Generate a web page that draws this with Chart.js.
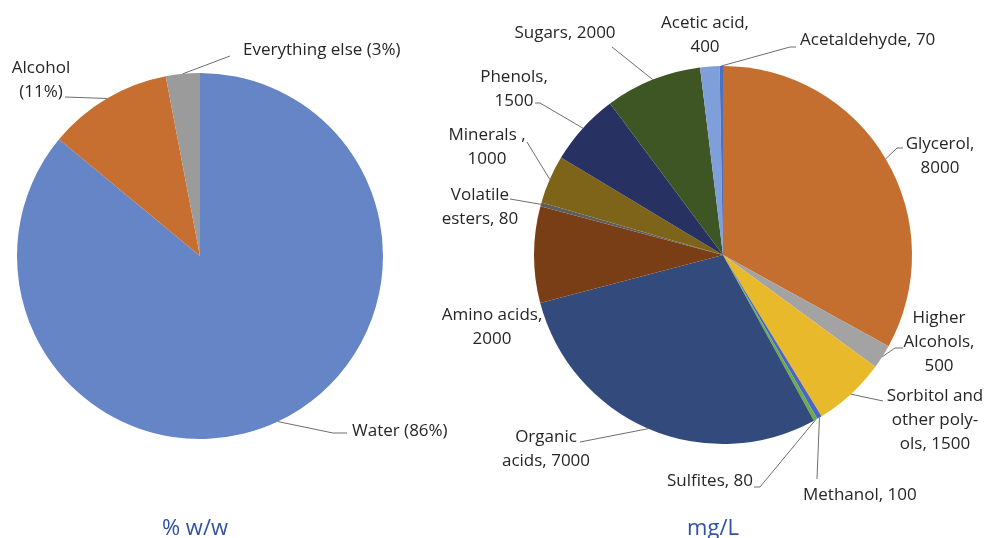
<!DOCTYPE html>
<html>
<head>
<meta charset="utf-8">
<script src="https://cdn.jsdelivr.net/npm/chart.js@4.4.1/dist/chart.umd.min.js"></script>
<style>
    html, body { margin: 0; padding: 0; background: #fff; }
    #wrap { position: relative; width: 985px; height: 538px; }
    #wrap canvas { position: absolute; left: 0; top: 0; }
</style>
</head>
<body>
<div id="wrap">
    <canvas id="peso-chart" width="985" height="538"></canvas>
    <canvas id="mgl-chart" width="985" height="538"></canvas>
</div>
<script>
// wine by weight, % w/w
const pesoCategorias = ['Water', 'Alcohol', 'Everything else'];
const pesoValores = [86, 11, 3];
const pesoCores = ['#6685c7', '#c66f31', '#9b9b9b'];

// the "everything else" part, mg/L
const mglCategorias = ['Glycerol', 'Higher Alcohols', 'Sorbitol and other polyols', 'Methanol', 'Sulfites',
    'Organic acids', 'Amino acids', 'Volatile esters', 'Minerals', 'Phenols', 'Sugars', 'Acetic acid', 'Acetaldehyde'];
const mglValores = [8000, 500, 1500, 100, 80, 7000, 2000, 80, 1000, 1500, 2000, 400, 70];
const mglCores = ['#c46e30', '#a3a3a3', '#e8b92a', '#4a64c8', '#6bae47', '#334a7d', '#7a3e17',
    '#5e5e5e', '#7d6418', '#283262', '#3e5624', '#7f9fdb', '#4f6fc0'];

// label placement, {v} is filled with the slice value
const pesoRotulos = [
    { lines: ['Water ({v}%)'], x: 352, y: 431, align: 'left', elbow: [333, 433], end: [347, 433] },
    { lines: ['Alcohol', '({v}%)'], x: 41, y: 68, align: 'center', end: [65, 97] },
    { lines: ['Everything else ({v}%)'], x: 243, y: 50, align: 'left', end: [230, 56] }
];
const mglRotulos = [
    { lines: ['Glycerol,', '{v}'], x: 940, y: 144, align: 'center', elbow: [897, 148], end: [903, 148] },
    { lines: ['Higher', 'Alcohols,', '{v}'], x: 939, y: 318, align: 'center', elbow: [895, 348], end: [903, 348] },
    { lines: ['Sorbitol and', 'other poly-', 'ols, {v}'], x: 935, y: 396, align: 'center', end: [883, 401] },
    { lines: ['Methanol, {v}'], x: 803, y: 495, align: 'left', end: [817, 479] },
    { lines: ['Sulfites, {v}'], x: 753, y: 481, align: 'right', elbow: [760, 487], end: [754, 487] },
    { lines: ['Organic', 'acids, {v}'], x: 546, y: 437, align: 'center', end: [580, 442] },
    { lines: ['Amino acids,', '{v}'], x: 492, y: 315, align: 'center' },
    { lines: ['Volatile', 'esters, {v}'], x: 480, y: 195, align: 'center', end: [510, 199] },
    { lines: ['Minerals ,', '{v}'], x: 487, y: 135, align: 'center', elbow: [530, 147], end: [527, 142] },
    { lines: ['Phenols,', '{v}'], x: 514, y: 77, align: 'center', elbow: [540, 103], end: [535, 103] },
    { lines: ['Sugars, {v}'], x: 565, y: 33, align: 'center', end: [612, 47] },
    { lines: ['Acetic acid,', '{v}'], x: 705, y: 23, align: 'center' },
    { lines: ['Acetaldehyde, {v}'], x: 800, y: 40, align: 'left', elbow: [790, 47], end: [796, 47] }
];

const FONTE = '"Open Sans", "Noto Sans", sans-serif';

// draws leader lines from each slice's outer edge, the labels and the unit caption
const rotulosPlugin = {
    id: 'rotulos',
    afterDatasetsDraw(chart, args, opts) {
        const ctx = chart.ctx;
        const meta = chart.getDatasetMeta(0);
        const valores = chart.data.datasets[0].data;
        ctx.save();
        opts.rotulos.forEach((r, i) => {
            const arc = meta.data[i];
            const p = arc.getProps(['x', 'y', 'startAngle', 'endAngle', 'outerRadius'], true);
            const meio = (p.startAngle + p.endAngle) / 2;
            const ax = p.x + Math.cos(meio) * p.outerRadius;
            const ay = p.y + Math.sin(meio) * p.outerRadius;

            if (r.end) {
                ctx.strokeStyle = '#6e6e6e';
                ctx.lineWidth = 1;
                ctx.beginPath();
                ctx.moveTo(ax, ay);
                if (r.elbow) ctx.lineTo(r.elbow[0], r.elbow[1]);
                ctx.lineTo(r.end[0], r.end[1]);
                ctx.stroke();
            }

            ctx.fillStyle = '#262626';
            ctx.font = '17px ' + FONTE;
            ctx.textAlign = r.align;
            ctx.textBaseline = 'middle';
            r.lines.forEach((linha, k) => {
                const texto = linha.replace('{v}', valores[i]);
                ctx.fillText(texto, r.x, r.y + k * 24);
            });
        });

        ctx.fillStyle = '#2f52a3';
        ctx.font = '22px ' + FONTE;
        ctx.textAlign = 'center';
        ctx.textBaseline = 'alphabetic';
        ctx.fillText(opts.titulo.text, opts.titulo.x, opts.titulo.y);
        ctx.restore();
    }
};

function criarPizza(canvasId, categorias, valores, cores, padding, rotulos, titulo) {
    const ctx = document.getElementById(canvasId).getContext('2d');
    return new Chart(ctx, {
        type: 'pie',
        data: {
            labels: categorias,
            datasets: [{
                data: valores,
                backgroundColor: cores,
                borderWidth: 0
            }]
        },
        options: {
            responsive: false,
            animation: false,
            layout: { padding: padding },
            plugins: {
                legend: { display: false },
                tooltip: { enabled: false },
                rotulos: { rotulos: rotulos, titulo: titulo }
            }
        },
        plugins: [rotulosPlugin]
    });
}

criarPizza('peso-chart', pesoCategorias, pesoValores, pesoCores,
    { left: 17, right: 602, top: 73, bottom: 99 }, pesoRotulos, { text: '% w/w', x: 195, y: 535 });
criarPizza('mgl-chart', mglCategorias, mglValores, mglCores,
    { left: 534, right: 73, top: 66, bottom: 94 }, mglRotulos, { text: 'mg/L', x: 713, y: 535 });
</script>
</body>
</html>
